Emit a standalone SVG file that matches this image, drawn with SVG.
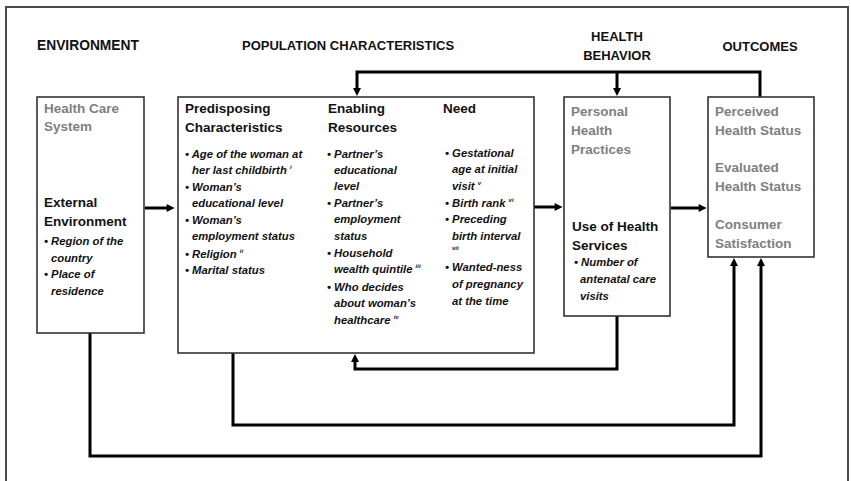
<svg xmlns="http://www.w3.org/2000/svg" width="851" height="481" viewBox="0 0 851 481">
<defs>
<marker id="ah" viewBox="0 0 10 10" markerWidth="9" markerHeight="8" refX="3" refY="5" orient="auto" markerUnits="userSpaceOnUse">
<path d="M0,0 L10,5 L0,10 z" fill="#000"/>
</marker>
<style>
.frame{fill:none;stroke:#4a4a4a;stroke-width:2}
.box{fill:#fff;stroke:#333;stroke-width:1.6}
.hdr{font-family:"Liberation Sans",Arial,sans-serif;font-weight:bold;font-size:13px;fill:#111}
.t{font-family:"Liberation Sans",Arial,sans-serif;font-weight:bold;font-size:13.5px}
.g{fill:#808080}
.k{fill:#111}
.b{font-family:"Liberation Sans",Arial,sans-serif;font-weight:bold;font-style:italic;font-size:11.3px;fill:#111}
.sup{font-size:6px}
.c{fill:none;stroke:#000;stroke-width:3}
.ca{fill:none;stroke:#000;stroke-width:3;marker-end:url(#ah)}
</style>
</defs>
<rect x="0" y="0" width="851" height="481" fill="#fff"/>
<rect class="frame" x="6" y="7" width="842" height="490"/>

<g id="headers">
<text class="hdr" x="37" y="50" style="font-size:13.8px">ENVIRONMENT</text>
<text class="hdr" x="242" y="50">POPULATION CHARACTERISTICS</text>
<text class="hdr" x="617" y="41" text-anchor="middle">HEALTH</text>
<text class="hdr" x="617" y="60" text-anchor="middle">BEHAVIOR</text>
<text class="hdr" x="760" y="51" text-anchor="middle">OUTCOMES</text>
</g>

<g id="connectors">
<path class="ca" d="M145,208 H169"/>
<path class="ca" d="M534,207 H557"/>
<path class="ca" d="M671,208 H701"/>
<path class="ca" d="M287,122 H309" style="stroke-width:2.5"/>
<path class="ca" d="M398,122 H422" style="stroke-width:2.5"/>
<path class="ca" d="M760,97 V72 H357 V90.5"/>
<path class="ca" d="M617,72 V90.5"/>
<path class="ca" d="M617,316 V369 H355 V359.5"/>
<path class="ca" d="M233,353 V425 H734 V263.5"/>
<path class="ca" d="M90,333 V456 H761 V263.5"/>
</g>

<g id="environment">
<rect class="box" x="37" y="97" width="107" height="236"/>
<text class="t g" x="44" y="113">Health Care</text>
<text class="t g" x="44" y="131">System</text>
<text class="t k" x="44" y="207">External</text>
<text class="t k" x="44" y="226">Environment</text>
<text class="b" x="44" y="245">• Region of the</text>
<text class="b" x="51" y="262">country</text>
<text class="b" x="44" y="278">• Place of</text>
<text class="b" x="51" y="295">residence</text>
</g>

<g id="population">
<rect class="box" x="178" y="97" width="356" height="256"/>
<text class="t k" x="185" y="113">Predisposing</text>
<text class="t k" x="185" y="132">Characteristics</text>
<text class="t k" x="328" y="113">Enabling</text>
<text class="t k" x="328" y="132">Resources</text>
<text class="t k" x="443" y="113">Need</text>

<text class="b" x="185" y="158">• Age of the woman at</text>
<text class="b" x="192" y="174">her last childbirth <tspan class="sup" dy="-5">i</tspan></text>
<text class="b" x="185" y="191">•  Woman’s</text>
<text class="b" x="192" y="207">educational level</text>
<text class="b" x="185" y="224">•  Woman’s</text>
<text class="b" x="192" y="240">employment status</text>
<text class="b" x="185" y="258">•  Religion <tspan class="sup" dy="-5">ii</tspan></text>
<text class="b" x="185" y="274">•  Marital status</text>

<text class="b" x="327" y="158">• Partner’s</text>
<text class="b" x="334" y="174">educational</text>
<text class="b" x="334" y="190">level</text>
<text class="b" x="327" y="207">• Partner’s</text>
<text class="b" x="334" y="223">employment</text>
<text class="b" x="334" y="240">status</text>
<text class="b" x="327" y="257">• Household</text>
<text class="b" x="334" y="273">wealth quintile <tspan class="sup" dy="-5">iii</tspan></text>
<text class="b" x="327" y="291">• Who decides</text>
<text class="b" x="334" y="307">about  woman’s</text>
<text class="b" x="334" y="324">healthcare <tspan class="sup" dy="-5">iv</tspan></text>

<text class="b" x="445" y="157">• Gestational</text>
<text class="b" x="452" y="173">age at initial</text>
<text class="b" x="452" y="190">visit <tspan class="sup" dy="-5">v</tspan></text>
<text class="b" x="445" y="207">• Birth rank <tspan class="sup" dy="-5">vi</tspan></text>
<text class="b" x="445" y="223">• Preceding</text>
<text class="b" x="452" y="240">birth interval</text>
<text class="b sup" x="452" y="250">vii</text>
<text class="b" x="445" y="271">• Wanted-ness</text>
<text class="b" x="452" y="288">of pregnancy</text>
<text class="b" x="452" y="305">at the time</text>
</g>

<g id="health-behavior">
<rect class="box" x="564" y="97" width="106" height="219"/>
<text class="t g" x="571" y="116">Personal</text>
<text class="t g" x="571" y="135">Health</text>
<text class="t g" x="571" y="154">Practices</text>
<text class="t k" x="572" y="231">Use of Health</text>
<text class="t k" x="572" y="250">Services</text>
<text class="b" x="574" y="266">• Number of</text>
<text class="b" x="580" y="283">antenatal care</text>
<text class="b" x="580" y="300">visits</text>
</g>

<g id="outcomes">
<rect class="box" x="708" y="97" width="106" height="160"/>
<text class="t g" x="715" y="116">Perceived</text>
<text class="t g" x="715" y="135">Health Status</text>
<text class="t g" x="715" y="172">Evaluated</text>
<text class="t g" x="715" y="191">Health Status</text>
<text class="t g" x="715" y="229">Consumer</text>
<text class="t g" x="715" y="248">Satisfaction</text>
</g>
</svg>
